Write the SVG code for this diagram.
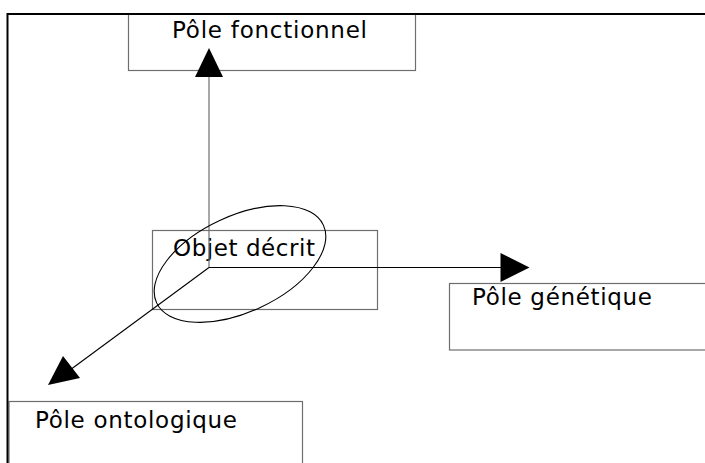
<svg xmlns="http://www.w3.org/2000/svg" width="705" height="463" viewBox="0 0 705 463">
<style>
  .box { fill: #ffffff; stroke: #6e6e6e; stroke-width: 1.2; }
  .lbl { font-family: "DejaVu Sans", "Noto Sans", sans-serif; font-size: 23px; fill: #000000; }
  .line { fill: none; stroke: #000000; stroke-width: 1.1; }
  .vline { fill: none; stroke: #6e6e6e; stroke-width: 1.2; }
  .head { fill: #000000; stroke: none; }
  .frame { fill: none; stroke: #000000; stroke-width: 2; }
</style>
<rect width="705" height="463" fill="#ffffff"/>
<g id="node-fonctionnel">
  <rect class="box" x="128.5" y="14" width="287" height="56.5"/>
  <text class="lbl" x="172" y="38" textLength="195">Pôle fonctionnel</text>
</g>
<g id="node-objet">
  <rect class="box" x="152.5" y="230.5" width="225" height="79"/>
  <text class="lbl" x="173" y="256" textLength="142">Objet décrit</text>
</g>
<g id="node-genetique">
  <rect class="box" x="449.5" y="283.5" width="260" height="66.5"/>
  <text class="lbl" x="472" y="305" textLength="180">Pôle génétique</text>
</g>
<g id="node-ontologique">
  <rect class="box" x="9" y="401.5" width="293.5" height="70"/>
  <text class="lbl" x="35" y="428" textLength="202">Pôle ontologique</text>
</g>
<g id="frame">
  <path class="frame" d="M7.5 463 V14 H705"/>
</g>
<g id="connectors">
  <line class="vline" x1="209" y1="267.5" x2="209" y2="76"/>
  <polygon class="head" points="209,48 195,77 223,77"/>
  <line class="line" x1="209" y1="267.5" x2="502" y2="267.5"/>
  <polygon class="head" points="529.5,267.5 500.5,253 500.5,282"/>
  <line class="line" x1="209" y1="267.5" x2="70" y2="370"/>
  <polygon class="head" points="48,385 63,356 80,378"/>
  <ellipse class="line" cx="240" cy="264" rx="92" ry="48" transform="rotate(-25 240 264)"/>
</g>
</svg>
